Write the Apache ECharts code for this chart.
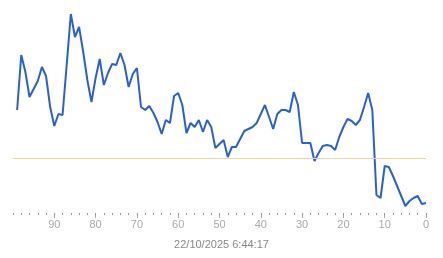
<!DOCTYPE html>
<html>
<head>
<meta charset="utf-8">
<script src="https://cdn.jsdelivr.net/npm/echarts@6/dist/echarts.min.js"></script>
<style>html,body{margin:0;padding:0;background:#fff;}#c{width:443px;height:258px;}</style>
</head>
<body>
<div id="c"></div>
<script>
const xValues = [99,98,97,96,95,94,93,92,91,90,89,88,87,86,85,84,83,82,81,80,79,78,77,76,75,74,73,72,71,70,69,68,67,66,65,64,63,62,61,60,59,58,57,56,55,54,53,52,51,50,49,48,47,46,45,44,43,42,41,40,39,38,37,36,35,34,33,32,31,30,29,28,27,26,25,24,23,22,21,20,19,18,17,16,15,14,13,12,11,10,9,8,7,6,5,4,3,2,1,0];
const yValues = [103,158,141,116,124,132,146,137,106,87,99,98,148,199,176,186,161,133,111,135,154,128,140,149,148,160,148,126,139,145,106,103,107,100,91,79,93,90,117,120,108,80,90,86,93,81,93,86,65,69,73,56,66,66,74,82,84,86,90,99,108,96,84,99,103,103,101,121,108,70,70,70,52,60,67,68,67,63,76,86,94,92,88,93,106,120,103,18,15,47,46,37,27,17,7,12,15,17,9,10];
const majorTicks = [90,80,70,60,50,40,30,20,10,0];
const thresholdValue = 55;
const timestampLabel = '22/10/2025 6:44:17';

const chart = echarts.init(document.getElementById('c'), null, {renderer:'canvas'});
chart.setOption({
  animation: false,
  title: {
    text: timestampLabel,
    left: 'center',
    top: 234,
    textStyle: {fontSize: 11, fontWeight: 'normal', color: '#888', fontFamily: 'Liberation Sans, Arial, sans-serif'}
  },
  grid: {left: 13, right: 17, top: 0, bottom: 45},
  xAxis: [{
    type: 'value', inverse: true, min: 0, max: 100, interval: 10,
    axisLine: {show: false},
    splitLine: {show: false},
    axisTick: {show: true, length: 5, customValues: majorTicks, lineStyle: {color: '#aaa', width: 1}},
    axisLabel: {customValues: majorTicks, margin: 6, fontSize: 11, color: '#aaa', fontFamily: 'Liberation Sans, Arial, sans-serif'}
  }, {
    type: 'value', inverse: true, min: 0, max: 100, interval: 2, position: 'bottom',
    axisLine: {show: false},
    splitLine: {show: false},
    axisLabel: {show: false},
    axisTick: {show: true, length: 2, lineStyle: {color: '#999', width: 1}}
  }],
  yAxis: {type: 'value', min: 0, max: 213, show: false},
  series: [{
    type: 'line',
    xAxisIndex: 0,
    data: xValues.map((x, i) => [x, yValues[i]]),
    showSymbol: false,
    symbol: 'none',
    lineStyle: {color: '#2860dc', width: 2},
    markLine: {
      silent: true,
      symbol: ['none','none'],
      label: {show: false},
      lineStyle: {color: '#f0d890', width: 1, type: 'solid'},
      data: [{yAxis: thresholdValue}]
    }
  }]
});
</script>
</body>
</html>
